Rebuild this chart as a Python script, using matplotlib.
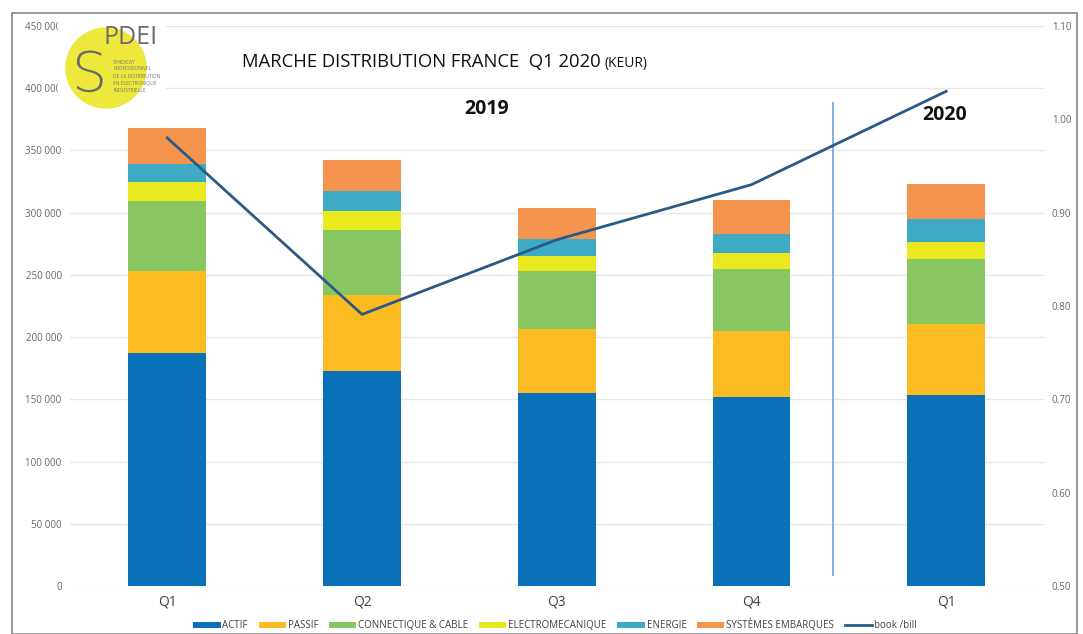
import matplotlib
matplotlib.use("Agg")
import matplotlib.pyplot as plt
from matplotlib.patches import Circle, Rectangle
import numpy as np

plt.rcParams['font.family'] = ['Open Sans', 'DejaVu Sans']

quarters = ["Q1", "Q2", "Q3", "Q4", "Q1"]
actif = [187300, 172800, 155100, 152000, 153500]
passif = [65900, 61100, 51500, 53000, 57100]
connectique = [56300, 52300, 46600, 49900, 52300]
electromecanique = [15300, 15300, 12100, 12800, 13700]
energie = [14400, 16000, 13700, 15300, 18400]
systemes = [29000, 25000, 24900, 27300, 28200]
book_bill = [0.980, 0.791, 0.871, 0.930, 1.030]

series_names = ["ACTIF", "PASSIF", "CONNECTIQUE & CABLE", "ELECTROMECANIQUE",
                "ENERGIE", "SYSTÈMES EMBARQUES"]
series_vals = [actif, passif, connectique, electromecanique, energie, systemes]
colors = ["#0a70b8", "#fbbb22", "#88c661", "#eae81f", "#3eaac3", "#f5944f"]
line_color = "#2b5a87"

fig = plt.figure(figsize=(10.83, 6.34), dpi=100)
W, H = 1083, 634
ax = fig.add_axes([70 / W, 1 - 586 / H, 973.5 / W, 560 / H])
ax2 = ax.twinx()

x = np.arange(len(quarters))
bottom = np.zeros(len(quarters))
handles = []
for name, vals, c in zip(series_names, series_vals, colors):
    b = ax.bar(x, vals, width=0.4, bottom=bottom, color=c, label=name, zorder=3)
    handles.append(b)
    bottom += np.array(vals)

ax.set_xlim(-0.5, len(quarters) - 0.5)
ax.set_ylim(0, 450000)
ax.set_yticks(np.arange(0, 450001, 50000))
ax.set_yticklabels([f"{v:,}".replace(",", " ") for v in range(0, 450001, 50000)])
ax.yaxis.grid(True, color="#e6e6e6", linewidth=1, zorder=0)
ax.set_axisbelow(True)
for s in ax.spines.values():
    s.set_visible(False)
for s in ax2.spines.values():
    s.set_visible(False)
ax.tick_params(axis='y', length=0, labelsize=7, colors="#666666", pad=6)
ax.tick_params(axis='x', length=0, labelsize=10, colors="#404040", pad=6)
ax.set_xticks(x)
ax.set_xticklabels(quarters)

ln, = ax2.plot(x, book_bill, color=line_color, linewidth=2, label="book /bill", zorder=4)
ax2.set_ylim(0.5, 1.1)
ax2.set_yticks(np.arange(0.5, 1.101, 0.1))
ax2.set_yticklabels([f"{v:.2f}" for v in np.arange(0.5, 1.101, 0.1)])
ax2.tick_params(axis='y', length=0, labelsize=7, colors="#666666", pad=6)

# separator between 2019 and 2020
ax.plot([3.42, 3.42], [9000, 388000], color="#7da7d9", linewidth=1.3, zorder=2)

t = fig.text(242 / W, 1 - 62 / H, "MARCHE DISTRIBUTION FRANCE  Q1 2020", fontsize=13.3,
             color="#111111", va="center", ha="left")
fig.canvas.draw()
bb = t.get_window_extent()
fig.text(bb.x1 / W + 4 / W, 1 - 63 / H, "(KEUR)", fontsize=10, color="#111111",
         va="center", ha="left")
fig.text(487 / W, 1 - 109 / H, "2019", fontsize=14, fontweight="bold", color="#111111",
         va="center", ha="center")
fig.text(945 / W, 1 - 115 / H, "2020", fontsize=14, fontweight="bold", color="#111111",
         va="center", ha="center")

# logo
lax = fig.add_axes([58 / W, 1 - 112 / H, 108 / W, 92 / H])
lax.set_xlim(0, 108)
lax.set_ylim(92, 0)
lax.set_facecolor("white")
lax.set_xticks([]); lax.set_yticks([])
for s in lax.spines.values():
    s.set_visible(False)
lax.add_patch(Circle((48, 48), 40, color="#ece83c", zorder=1))
lax.text(31, 56, "S", fontsize=40, color="#6b6b6b", ha="center", va="center", zorder=2,
         family="DejaVu Sans", fontweight="light")
lax.text(46, 17, "PDEI", fontsize=18, color="#6b6b6b", ha="left", va="center", zorder=2)
small = ["SYNDICAT", "PROFESSIONNEL", "DE LA DISTRIBUTION", "EN ELECTRONIQUE", "INDUSTRIELLE"]
for i, tx in enumerate(small):
    lax.text(55, 42 + i * 7, tx, fontsize=3.5, color="#777777", ha="left", va="center", zorder=2)

# border
fig.add_artist(Rectangle((12 / W, 0), 1065 / W, 1 - 13 / H, transform=fig.transFigure,
                         fill=False, edgecolor="#888888", linewidth=1.2))

fig.legend(handles + [ln], series_names + ["book /bill"], loc="center",
           bbox_to_anchor=(555 / W, 1 - 625 / H), ncol=7, frameon=False, fontsize=7,
           handlelength=2.8, handleheight=0.5, handletextpad=0.2, columnspacing=1.1,
           labelcolor="#404040")

fig.savefig("out.png", dpi=100, facecolor="white")
